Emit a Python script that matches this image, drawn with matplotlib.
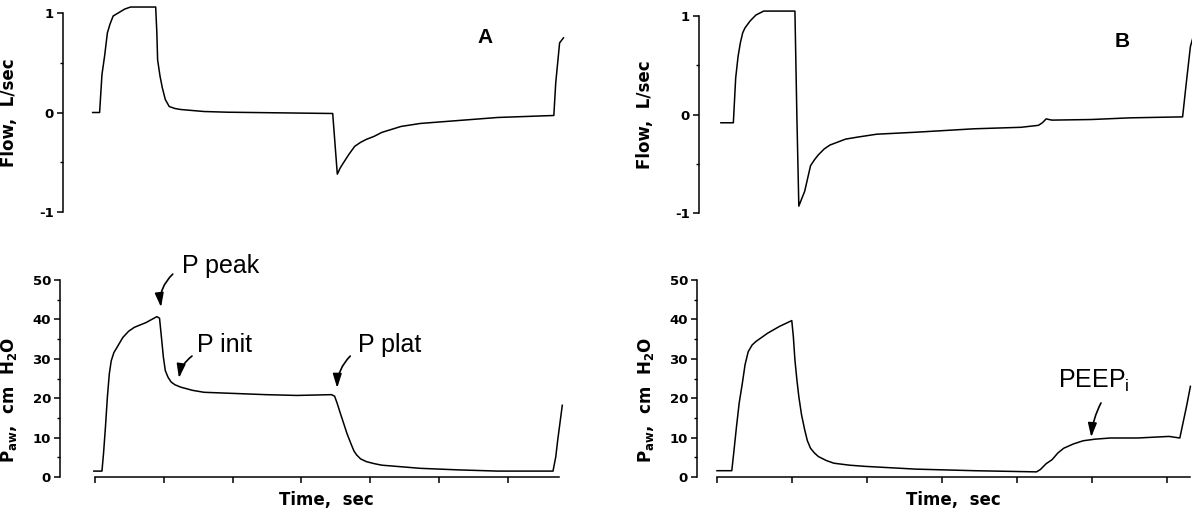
import matplotlib.pyplot as plt
from matplotlib.ticker import MultipleLocator, NullFormatter

plt.rcParams['axes.unicode_minus'] = False
plt.rcParams['mathtext.fontset'] = 'dejavusans'

W, H = 1192, 514

# time is in units of one x tick
a_flow_t = [-0.034, 0.067, 0.101, 0.140, 0.180, 0.219, 0.264, 0.337, 0.433, 0.517, 0.882, 0.899,
            0.910, 0.944, 0.978, 1.022, 1.079, 1.163, 1.247, 1.584, 1.921, 3.455, 3.522, 3.562,
            3.607, 3.691, 3.775, 3.860, 3.944, 4.056, 4.169, 4.309, 4.449, 4.730, 5.292, 5.854,
            6.669, 6.697, 6.753, 6.809]
a_flow = [0, 0, 0.38, 0.57, 0.80, 0.89, 0.97, 1.00, 1.04, 1.06, 1.06, 0.80,
          0.53, 0.37, 0.25, 0.13, 0.06, 0.04, 0.03, 0.01, 0.003, -0.01, -0.62, -0.56,
          -0.51, -0.42, -0.34, -0.30, -0.27, -0.24, -0.20, -0.17, -0.14, -0.11, -0.08, -0.05,
          -0.03, 0.30, 0.70, 0.75]

a_paw_t = [-0.017, 0.101, 0.124, 0.152, 0.180, 0.208, 0.236, 0.275, 0.320, 0.404, 0.489, 0.573,
           0.742, 0.899, 0.938, 0.966, 0.994, 1.022, 1.062, 1.107, 1.163, 1.247, 1.416, 1.584,
           2.483, 2.933, 3.438, 3.483, 3.522, 3.567, 3.607, 3.663, 3.719, 3.764, 3.803, 3.860,
           3.944, 4.056, 4.169, 4.730, 5.292, 5.854, 6.657, 6.697, 6.725, 6.792]
a_paw = [1.5, 1.5, 6.0, 12.7, 20.3, 26.2, 29.5, 31.6, 32.9, 35.4, 37.0, 38.0,
         39.2, 40.7, 40.3, 35.4, 30.4, 27.0, 25.3, 24.1, 23.4, 22.8, 22.0, 21.5,
         20.9, 20.7, 20.9, 20.5, 18.6, 16.1, 14.0, 11.0, 8.5, 6.6, 5.6, 4.6,
         3.9, 3.4, 3.0, 2.2, 1.8, 1.5, 1.5, 5.1, 9.3, 18.2]

b_flow_t = [0.052, 0.218, 0.234, 0.249, 0.281, 0.312, 0.343, 0.374, 0.442, 0.519, 0.623, 1.039,
            1.065, 1.091, 1.127, 1.169, 1.205, 1.247, 1.299, 1.351, 1.429, 1.506, 1.610, 1.714,
            1.870, 2.130, 2.649, 3.429, 4.052, 4.286, 4.338, 4.390, 4.426, 4.468, 4.987, 5.506,
            6.208, 6.260, 6.312, 6.364]
b_flow = [-0.084, -0.084, 0.15, 0.37, 0.59, 0.73, 0.83, 0.88, 0.95, 1.01, 1.05, 1.05,
          -0.02, -0.93, -0.86, -0.78, -0.66, -0.52, -0.46, -0.41, -0.35, -0.31, -0.28, -0.25,
          -0.23, -0.20, -0.18, -0.145, -0.13, -0.11, -0.084, -0.044, -0.051, -0.057, -0.051, -0.034,
          -0.024, 0.34, 0.69, 0.83]

b_paw_t = [0.0, 0.197, 0.223, 0.260, 0.296, 0.338, 0.374, 0.416, 0.468, 0.519, 0.675, 0.831,
           0.997, 1.018, 1.039, 1.065, 1.091, 1.127, 1.169, 1.205, 1.247, 1.299, 1.351, 1.455,
           1.558, 1.766, 1.974, 2.649, 3.429, 4.260, 4.312, 4.390, 4.468, 4.545, 4.623, 4.753,
           4.883, 5.039, 5.247, 5.610, 6.026, 6.171, 6.260, 6.312]
b_paw = [1.6, 1.6, 6.1, 12.8, 18.8, 23.8, 28.5, 31.8, 33.5, 34.4, 36.5, 38.2,
         39.7, 35.6, 29.7, 24.7, 20.4, 15.8, 12.0, 9.2, 7.3, 6.1, 5.2, 4.2,
         3.5, 3.0, 2.7, 2.0, 1.6, 1.3, 1.9, 3.4, 4.4, 6.1, 7.3, 8.4,
         9.2, 9.6, 9.9, 9.9, 10.3, 9.9, 17.9, 23.0]

time_ticks = [0, 1, 2, 3, 4, 5, 6]
flow_ticks = [-1, 0, 1]
paw_ticks = [0, 10, 20, 30, 40, 50]

tick_font = dict(family='DejaVu Sans', weight='bold', size=9.5)
label_font = dict(family='DejaVu Sans', weight='bold', size=12)
note_font = dict(family='Liberation Sans', size=18)

fig = plt.figure(figsize=(W / 100, H / 100), dpi=100)


def add_axes(left, top, right, bottom, t0, tstep):
    ax = fig.add_axes([left / W, 1 - bottom / H, (right - left) / W, (bottom - top) / H])
    ax.set_xlim((left - t0) / tstep, (right - t0) / tstep)
    ax.patch.set_visible(False)
    for s in ['top', 'right']:
        ax.spines[s].set_visible(False)
    for s in ax.spines.values():
        s.set_linewidth(1.1)
    ax.tick_params(axis='y', which='major', direction='out', length=4.5, width=1.1, pad=2)
    ax.tick_params(axis='y', which='minor', direction='out', length=2.5, width=1.0)
    return ax


def flow_axes(left, top, right, bottom, t0, tstep):
    ax = add_axes(left, top, right, bottom, t0, tstep)
    ax.set_ylim(-1, 1)
    ax.spines['bottom'].set_visible(False)
    ax.set_xticks([])
    ax.set_yticks(flow_ticks)
    ax.set_yticklabels([str(v) for v in flow_ticks], **tick_font)
    ax.yaxis.set_minor_locator(MultipleLocator(0.5))
    ax.set_ylabel('Flow,  L/sec', **label_font)
    ax.yaxis.set_label_coords(-45 / (right - left), 0.5)
    return ax


def paw_axes(left, top, right, bottom, t0, tstep, tend):
    ax = add_axes(left, top, right, bottom, t0, tstep)
    ax.set_ylim(0, 50)
    ax.spines['bottom'].set_bounds(0, tend)
    ax.set_xticks(time_ticks)
    ax.xaxis.set_major_formatter(NullFormatter())
    ax.tick_params(axis='x', direction='out', length=4.5, width=1.1)
    ax.set_yticks(paw_ticks)
    ax.set_yticklabels([str(v) for v in paw_ticks], **tick_font)
    ax.yaxis.set_minor_locator(MultipleLocator(5))
    ax.set_ylabel(r'P$_\mathbf{aw}$,  cm  H$_\mathbf{2}$O', **label_font)
    ax.yaxis.set_label_coords(-41 / (right - left), 0.39)
    ax.text(tend / 2, -3.5, 'Time,  sec', ha='center', va='top', **label_font)
    return ax


def note(ax, text, xy_text, xy_from, xy_tip, rad):
    ax.text(xy_text[0], xy_text[1], text, ha='left', va='baseline', clip_on=False, **note_font)
    ax.annotate('', xy=xy_tip, xytext=xy_from, annotation_clip=False,
                arrowprops=dict(arrowstyle='-|>,head_length=0.7,head_width=0.22', lw=1.2,
                                color='black', connectionstyle=f'arc3,rad={rad}',
                                shrinkA=0, shrinkB=0, mutation_scale=12))


line = dict(color='black', lw=1.1, clip_on=False, solid_joinstyle='round')

# panel A
ax = flow_axes(63, 13, 580, 212, 95, 68.8)
ax.plot(a_flow_t, a_flow, **line)
fig.text(485 / W, 1 - 43 / H, 'A', ha='center', va='baseline',
         family='Liberation Sans', weight='bold', size=15)

ax = paw_axes(60, 280, 580, 477, 95, 68.8, 6.74)
ax.plot(a_paw_t, a_paw, **line)
note(ax, 'P peak', (1.26, 51.8), (1.13, 51.5), (0.96, 43.1), 0.25)
note(ax, 'P init', (1.48, 31.7), (1.41, 30.7), (1.22, 25.1), 0.2)
note(ax, 'P plat', (3.82, 31.7), (3.71, 30.7), (3.52, 22.6), 0.2)

# panel B
ax = flow_axes(699, 16, 1192, 213, 717, 75)
ax.plot(b_flow_t, b_flow, **line)
fig.text(1122 / W, 1 - 47 / H, 'B', ha='center', va='baseline',
         family='Liberation Sans', weight='bold', size=15)

ax = paw_axes(697, 280, 1192, 477, 717, 75, 6.31)
ax.plot(b_paw_t, b_paw, **line)
note(ax, r'PEEP$_\mathregular{i}$', (4.55, 22.6), (5.12, 18.8), (4.99, 10.1), 0.1)

fig.savefig('out.png', dpi=100)
